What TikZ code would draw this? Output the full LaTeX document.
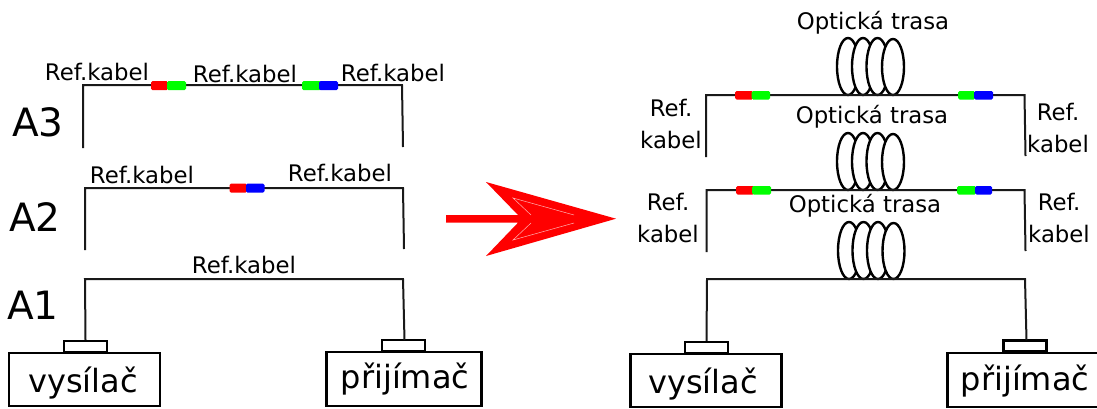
\documentclass[tikz,border=0pt]{standalone}
\usepackage{fontspec}
\setmainfont{DejaVu Sans}
\tikzset{
    cable/.style={line width=2pt, black!90},
    coil/.style={line width=2.4pt, fill=white},
    device/.style={draw, line width=2.2pt, fill=white, minimum width=151pt, minimum height=53pt, inner sep=0pt},
    port/.style={draw, line width=2.4pt, fill=white, minimum width=43pt, minimum height=11pt, inner sep=0pt},
    reflabel/.style={font=\fontsize{22.8}{32}\selectfont, align=center, inner sep=0pt},
    namelabel/.style={font=\fontsize{32}{36}\selectfont, inner sep=0pt, anchor=base},
    stagelabel/.style={font=\fontsize{39}{44}\selectfont, inner sep=0pt},
    splice/.style={rounded corners=1.5pt, draw=none}
}
\begin{document}
\begin{tikzpicture}[x=1pt,y=-1pt]
        \useasboundingbox (0,0) rectangle (1097,408);
        % left side
        \node[device] (tx) at (84.5,379.5) {};
        \node[device, minimum width=155pt, minimum height=54pt] (rx) at (404,379) {};
        \node[port] (txport) at (85.5,346.5) {};
        \node[port] (rxport) at (403.5,345.5) {};
        \node[namelabel] (txname) at (83,392) {vysílač};
        \node[namelabel] (rxname) at (405,388) {přijímač};
        \coordinate (a3l) at (83,148);
        \coordinate (a3r) at (403,147);
        \coordinate (a2l) at (85,250);
        \coordinate (a2r) at (404,249);
        \draw[cable] (a3l) -- (83,85) -- (402,85) -- (a3r);
        \draw[cable] (a2l) -- (85,188) -- (403,188) -- (a2r);
        \draw[cable] (txport.north) -- (85,279) -- (403,279) -- (404.5,340);
        \fill[red, splice] (151,81) rectangle (168,90);
        \fill[green, splice] (167,81) rectangle (186,90);
        \fill[green, splice] (302,81) rectangle (321,90);
        \fill[blue, splice] (319,81) rectangle (338,90);
        \fill[red, splice] (229.5,183.5) rectangle (247,192.5);
        \fill[blue, splice] (246,183.5) rectangle (264.5,192.5);
        \node[reflabel] (a3first) at (97,72) {Ref.kabel};
        \node[reflabel] (a3second) at (245,74) {Ref.kabel};
        \node[reflabel] (a3third) at (393,73) {Ref.kabel};
        \node[reflabel] (a2first) at (142,175) {Ref.kabel};
        \node[reflabel] (a2second) at (340,173) {Ref.kabel};
        \node[reflabel] (a1first) at (244,265) {Ref.kabel};
        \node[stagelabel] (a3) at (38,122) {A3};
        \node[stagelabel] (a2) at (35,217) {A2};
        \node[stagelabel] (a1) at (33,305) {A1};
        % arrow
        \fill[red] (446,215) -- (518,215) -- (486,182) -- (616,218.7) -- (486,256) -- (518,222.7) -- (446,222.7) -- cycle;
        \draw[white!70!red, line width=0.5pt] (531,215) -- (513,198) -- (574,215);
        \draw[white!70!red, line width=0.5pt] (531,223) -- (513,240) -- (574,223);
        % right side
        \node[device] (txb) at (706,380.5) {};
        \node[device, minimum height=54pt] (rxb) at (1023,380) {};
        \node[port] (txbport) at (706.5,347.5) {};
        \node[port] (rxbport) at (1025,346) {};
        \node[namelabel] (txbname) at (703,393) {vysílač};
        \node[namelabel] (rxbname) at (1025,390) {přijímač};
        \coordinate (c3l) at (706,157);
        \coordinate (c3r) at (1025.5,156);
        \coordinate (c2l) at (706.5,252);
        \coordinate (c2r) at (1025.5,251);
        \draw[coil] (848,66.5) ellipse (11 and 28.5);
        \draw[coil] (863,66.5) ellipse (11 and 28.5);
        \draw[coil] (877.5,66.5) ellipse (11 and 28.5);
        \draw[coil] (893,67) ellipse (11 and 28);
        \draw[coil] (848,161.5) ellipse (11 and 28.5);
        \draw[coil] (863,161.5) ellipse (11 and 28.5);
        \draw[coil] (877.5,161.5) ellipse (11 and 28.5);
        \draw[coil] (893,162) ellipse (11 and 28);
        \draw[coil] (849,250.5) ellipse (11 and 28.5);
        \draw[coil] (863.5,250.5) ellipse (11 and 28.5);
        \draw[coil] (878,250.5) ellipse (11 and 28.5);
        \draw[coil] (893.5,251) ellipse (11 and 28);
        \draw[cable] (c3l) -- (706,95) -- (1024.5,95) -- (c3r);
        \draw[cable] (c2l) -- (706.5,190) -- (1024.5,190) -- (c2r);
        \draw[cable] (txbport.north) -- (707,279) -- (1025,279) -- (1026.5,340);
        \fill[red, splice] (735,91) rectangle (753,99.5);
        \fill[green, splice] (751.5,91) rectangle (770,99.5);
        \fill[green, splice] (958,91) rectangle (975,99.5);
        \fill[blue, splice] (974,91) rectangle (993,99.5);
        \fill[red, splice] (736,186) rectangle (754,194.5);
        \fill[green, splice] (752,186) rectangle (771,194.5);
        \fill[green, splice] (957,186) rectangle (976,194.5);
        \fill[blue, splice] (975,186) rectangle (992,194.5);
        \node[reflabel] (t3) at (873,23) {Optická trasa};
        \node[reflabel] (t2) at (872,117) {Optická trasa};
        \node[reflabel] (t1) at (865,206) {Optická trasa};
        \node[reflabel] (c3left) at (671,124) {Ref.\\kabel};
        \node[reflabel] (c3right) at (1058,128) {Ref.\\kabel};
        \node[reflabel] (c2left) at (668,218) {Ref.\\kabel};
        \node[reflabel] (c2right) at (1059,218) {Ref.\\kabel};
    \end{tikzpicture}
\end{document}
